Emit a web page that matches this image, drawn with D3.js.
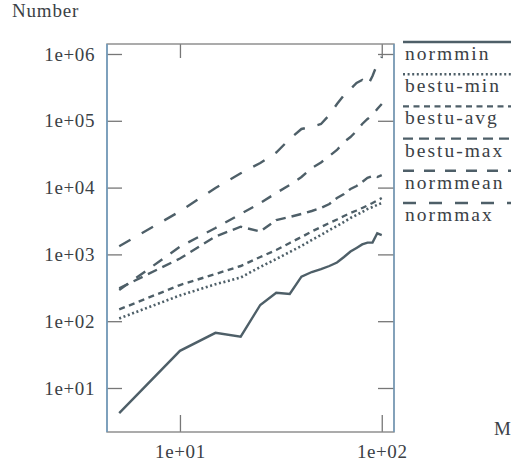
<!DOCTYPE html>
<html>
<head>
<meta charset="utf-8">
<script src="https://cdn.jsdelivr.net/npm/d3@7/dist/d3.min.js"></script>
<style>
  body { margin: 0; background: #fff; }
  svg { display: block; }
  text { font-family: 'Liberation Serif', 'Times New Roman', serif; fill: #3b4146; }
</style>
</head>
<body>
<div id="viz"></div>
<script>
const sizes = [5, 10, 15, 20, 25, 30, 35, 40, 45, 50, 55, 60, 65, 70, 75, 80, 85, 90, 95, 100]

const normmin = [4.2, 36, 67, 58.6, 175, 266, 255, 464, 545, 604, 670, 757, 914, 1104, 1250, 1410, 1500, 1500, 2070, 1950]
const bestuMin = [110, 243, 357, 451, 648, 853, 1087, 1336, 1643, 1951, 2320, 2661, 3055, 3508, 3890, 4315, 4786, 5128, 5495, 5880]
const bestuAvg = [150, 348, 509, 670, 914, 1164, 1482, 1821, 2203, 2571, 2951, 3328, 3758, 4168, 4541, 4951, 5395, 5880, 6410, 6985]
const bestuMax = [311, 868, 1853, 2598, 2203, 3273, 3631, 4027, 4465, 4951, 5680, 6985, 8018, 9530, 10570, 12130, 14000, 14900, 14400, 15400]
const normmean = [293, 1304, 2485, 4027, 5880, 8300, 10940, 14410, 19640, 23770, 29720, 36560, 48190, 57150, 70340, 89570, 106400, 122200, 150300, 178400]
const normmax = [1322, 4416, 9862, 16370, 23350, 33500, 53400, 75400, 81600, 89570, 122200, 178400, 243300, 299400, 368300, 408300, 331900, 468700, 708000, 902000]

const seriesNames = ['normmin', 'bestu-min', 'bestu-avg', 'bestu-max', 'normmean', 'normmax']
const yTicks = [10, 1e2, 1e3, 1e4, 1e5, 1e6]
const xTicks = [10, 100]

const render = () => {
    const width = 511,
        height = 472
    const margin = { top: 44, right: 117, bottom: 40, left: 107 },
        innerWidth = width - margin.left - margin.right,
        innerHeight = height - margin.top - margin.bottom

    const lineColor = '#4e5f68'
    const dashes = [null, '2,2.6', '6,4.5', '10,6', '11,10', '13,13']
    const seriesData = [normmin, bestuMin, bestuAvg, bestuMax, normmean, normmax]

    const svg = d3.select('#viz').append('svg')
        .attr('width', width)
        .attr('height', height)

    const g = svg.append('g')
        .attr('transform', `translate(${margin.left}, ${margin.top})`)

    const x = d3.scaleLog()
        .domain([4.35, 115])
        .range([0, innerWidth])

    const y = d3.scaleLog()
        .domain([2.194, 1.411e6])
        .range([innerHeight, 0])

    const expFmt = d => '1e+' + String(Math.round(Math.log10(d))).padStart(2, '0')

    // axes, ticks pointing inward
    const styleAxis = sel => {
        sel.select('.domain').remove()
        sel.selectAll('.tick line').attr('stroke', '#777').attr('stroke-width', 1.3)
        sel.selectAll('.tick text')
            .attr('font-size', 19)
            .attr('letter-spacing', 0.6)
            .style('font-family', "'Liberation Serif', serif")
            .attr('fill', '#3b4146')
    }

    g.append('g')
        .call(d3.axisLeft(y).tickValues(yTicks).tickFormat(expFmt).tickSize(-15).tickPadding(12))
        .call(styleAxis)

    g.append('g')
        .attr('transform', `translate(${innerWidth}, 0)`)
        .call(d3.axisRight(y).tickValues(yTicks).tickFormat('').tickSize(-16))
        .call(styleAxis)

    g.append('g')
        .attr('transform', `translate(0, ${innerHeight})`)
        .call(d3.axisBottom(x).tickValues(xTicks).tickFormat(expFmt).tickSize(-17).tickPadding(13))
        .call(styleAxis)

    g.append('g')
        .call(d3.axisTop(x).tickValues(xTicks).tickFormat('').tickSize(-14))
        .call(styleAxis)

    // frame
    g.append('rect')
        .attr('width', innerWidth)
        .attr('height', innerHeight)
        .attr('fill', 'none')
        .attr('stroke', '#888')
        .attr('stroke-width', 1.4)
    g.append('line')
        .attr('x1', 0).attr('x2', 0)
        .attr('y1', 0).attr('y2', innerHeight)
        .attr('stroke', '#6a9cc4')
        .attr('stroke-width', 1.4)
    g.append('line')
        .attr('x1', innerWidth).attr('x2', innerWidth)
        .attr('y1', 0).attr('y2', innerHeight)
        .attr('stroke', '#6a9cc4')
        .attr('stroke-width', 1.2)

    const line = d3.line()
        .x((d, i) => x(sizes[i]))
        .y(d => y(d))

    g.selectAll('.series').data(seriesData)
        .enter()
        .append('path')
        .attr('class', 'series')
        .attr('d', d => line(d))
        .attr('fill', 'none')
        .attr('stroke', lineColor)
        .attr('stroke-width', (d, i) => i === 1 ? 2.6 : 2.4)
        .attr('stroke-dasharray', (d, i) => dashes[i])

    // legend: sample line above each label
    const legend = svg.append('g')
        .attr('transform', 'translate(403, 42)')

    const item = legend.selectAll('g').data(seriesNames)
        .enter()
        .append('g')
        .attr('transform', (d, i) => `translate(0, ${i * 32.2})`)

    item.append('line')
        .attr('x1', 0)
        .attr('x2', 120)
        .attr('stroke', lineColor)
        .attr('stroke-width', 2.4)
        .attr('stroke-dasharray', (d, i) => dashes[i])

    item.append('text')
        .attr('x', 2)
        .attr('y', 18)
        .attr('font-size', 19.5)
        .attr('letter-spacing', 2)
        .text(d => d)

    svg.append('text')
        .attr('x', 12)
        .attr('y', 17)
        .attr('font-size', 19)
        .attr('letter-spacing', 0.8)
        .text('Number')

    svg.append('text')
        .attr('x', 494)
        .attr('y', 435)
        .attr('font-size', 19)
        .text('M')
}

render()
</script>
</body>
</html>
